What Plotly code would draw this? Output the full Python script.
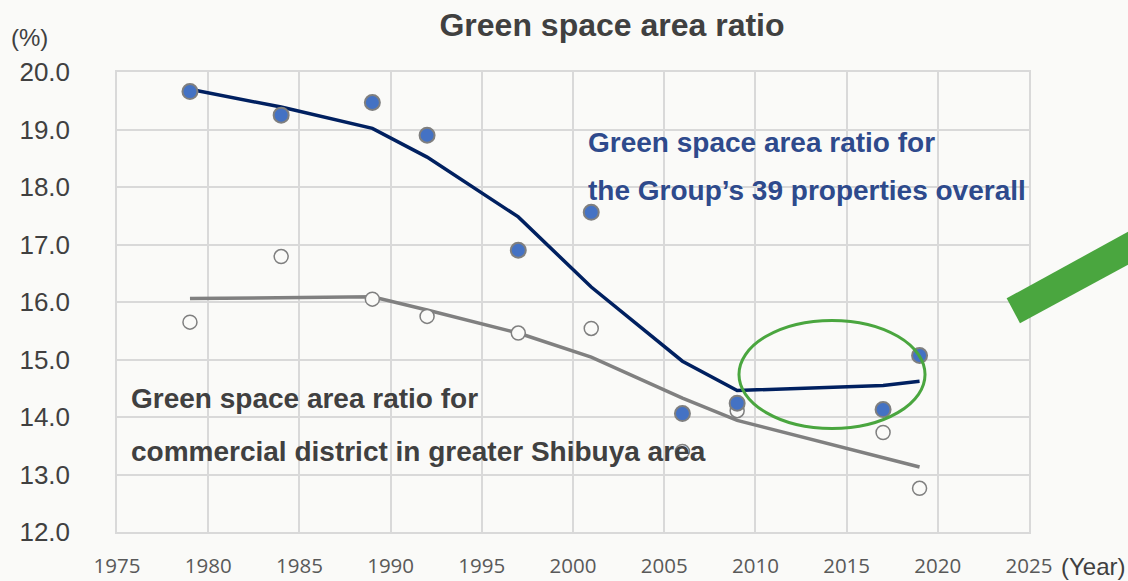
import plotly.graph_objects as go

# survey years
years = [1979, 1984, 1989, 1992, 1997, 2001, 2006, 2009, 2017, 2019]

# Group's 39 properties (dots) and its trend line
group_pts = [19.66, 19.25, 19.47, 18.90, 16.90, 17.56, 14.06, 14.24, 14.13, 15.07]
group_line = [19.70, 19.39, 19.02, 18.52, 17.48, 16.26, 14.97, 14.46, 14.55, 14.62]

# commercial district in greater Shibuya (hollow dots) and trend line
shibuya_pts = [15.65, 16.79, 16.05, 15.75, 15.46, 15.54, 13.40, 14.11, 13.73, 12.76]
shibuya_line = [16.06, 16.07, 16.09, 15.86, 15.46, 15.04, 14.33, 13.94, 13.28, 13.13]

x_ticks = [1975, 1980, 1985, 1990, 1995, 2000, 2005, 2010, 2015, 2020, 2025]
y_ticks = [12, 13, 14, 15, 16, 17, 18, 19, 20]

bg = "#FAFAF8"
grid = "#D9D9D9"
font = "Liberation Sans, Arial, sans-serif"

fig = go.Figure()
fig.add_trace(go.Scatter(x=years, y=shibuya_line, mode="lines",
    line=dict(color="#808080", width=3.5)))
fig.add_trace(go.Scatter(x=years, y=group_line, mode="lines",
    line=dict(color="#002060", width=3.5)))
fig.add_trace(go.Scatter(x=years, y=shibuya_pts, mode="markers",
    marker=dict(size=14, color=bg, line=dict(color="#7F7F7F", width=1.5))))
fig.add_trace(go.Scatter(x=years, y=group_pts, mode="markers",
    marker=dict(size=15, color="#4472C4", line=dict(color="#7F7F7F", width=2))))

# green ellipse around recent values
fig.add_shape(type="circle", xref="x", yref="y",
    x0=2009.1, x1=2019.3, y0=13.80, y1=15.68,
    line=dict(color="#4AA63F", width=3))

# plot area in pixels
L, R, T, B = 117, 1029, 72, 532
def px(X):
    return (X - L) / (R - L)
def py(Y):
    return (B - Y) / (B - T)

# green arrow shaft at the right edge
pts = [(1006.7, 298.3), (1020, 323.3), (1135, 261), (1135, 228)]
path = "M " + " L ".join(f"{px(a):.4f},{py(b):.4f}" for a, b in pts) + " Z"
fig.add_shape(type="path", xref="paper", yref="paper", path=path,
    fillcolor="#4AA63F", line=dict(width=0), layer="above")

blue_txt = "#2E4A8C"
gray_txt = "#404040"
for txt, yv, col, xv in [
    ("Green space area ratio for", 142, blue_txt, 586),
    ("the Group’s 39 properties overall", 190, blue_txt, 586),
    ("Green space area ratio for", 398, gray_txt, 129),
    ("commercial district in greater Shibuya area", 451, gray_txt, 129),
]:
    fig.add_annotation(x=px(xv), y=py(yv), xref="paper", yref="paper",
        text=f"<b>{txt}</b>", showarrow=False, xanchor="left", yanchor="middle",
        font=dict(family=font, size=28, color=col))

fig.add_annotation(x=px(9), y=py(37), xref="paper", yref="paper", text="(%)",
    showarrow=False, xanchor="left", yanchor="middle",
    font=dict(family=font, size=24, color=gray_txt))
fig.add_annotation(x=px(1127), y=py(566), xref="paper", yref="paper", text="(Year)",
    showarrow=False, xanchor="right", yanchor="middle",
    font=dict(family=font, size=24, color=gray_txt))

fig.update_layout(
    width=1128, height=581,
    paper_bgcolor=bg, plot_bgcolor=bg,
    showlegend=False,
    margin=dict(l=L, r=1128 - R, t=T, b=581 - B),
    title=dict(text="<b>Green space area ratio</b>", x=612 / 1128, xanchor="center",
        y=1 - 25 / 581, yanchor="middle",
        font=dict(family=font, size=32, color=gray_txt)),
    xaxis=dict(range=[1975, 2025], tickvals=x_ticks, showgrid=True, gridcolor=grid,
        gridwidth=1.5, zeroline=False, showline=True, mirror=True, linecolor=grid,
        linewidth=1.5, ticks="", ticklabelstandoff=15, automargin=False,
        tickfont=dict(family="Open Sans, sans-serif", size=20.5, color="#595959")),
    yaxis=dict(range=[12, 20], tickvals=y_ticks, tickformat=".1f", showgrid=True,
        gridcolor=grid, gridwidth=1.5, zeroline=False, showline=True, mirror=True,
        linecolor=grid, linewidth=1.5, ticks="", ticklabelstandoff=40, automargin=False,
        tickfont=dict(family=font, size=26, color=gray_txt)),
)

fig.write_html("out.html", config={"displayModeBar": False},
    post_script="document.body.style.margin='0px';")
